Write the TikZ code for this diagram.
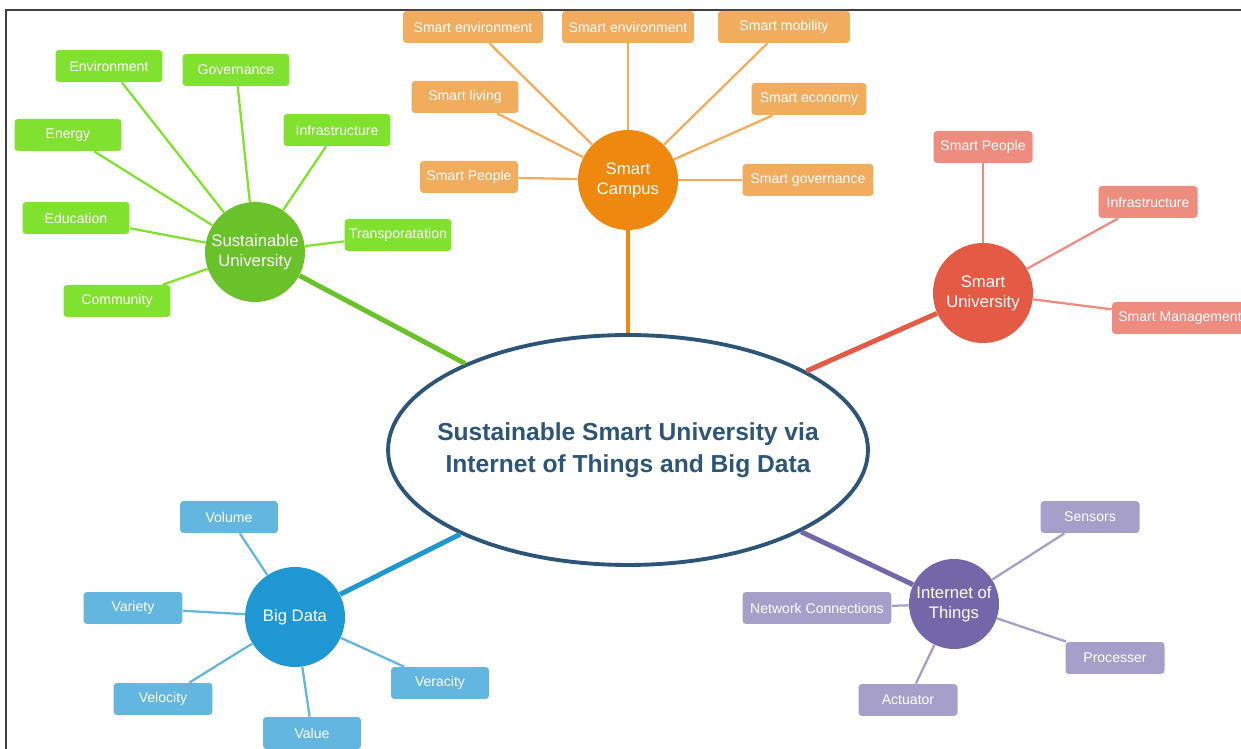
\documentclass[tikz,border=0pt]{standalone}
\usepackage{fontspec}
\setmainfont{Liberation Sans}
\usetikzlibrary{shapes.geometric}
\definecolor{coreblue}{HTML}{2D5577}
\definecolor{grnD}{HTML}{6AC22A}
\definecolor{grnL}{HTML}{80E22E}
\definecolor{orgD}{HTML}{EF880F}
\definecolor{orgL}{HTML}{F2AC5E}
\definecolor{redD}{HTML}{E55A44}
\definecolor{redL}{HTML}{EE8C80}
\definecolor{bluD}{HTML}{1F97D2}
\definecolor{bluL}{HTML}{62B6E0}
\definecolor{purD}{HTML}{7467A9}
\definecolor{purL}{HTML}{A59FC9}

\begin{document}
\begin{tikzpicture}[x=0.02cm,y=-0.02cm,
    leaf/.style={rectangle,rounded corners=2pt,text=white,font=\fontsize{8}{9}\selectfont,
      minimum height=0.64cm,inner sep=1pt},
    hub/.style={circle,text=white,font=\fontsize{9.5}{11.3}\selectfont,align=center,
      minimum size=2cm,inner sep=0pt},
    spoke/.style={line width=1.3pt},
    trunk/.style={line width=2.8pt}]
      \useasboundingbox (0,0) rectangle (1241,749);
      \clip (0,0) rectangle (1241,749);
      \draw[line width=0.8pt,black!75] (6,749) -- (6,10) -- (1241,10);

      \node[ellipse,draw=coreblue,line width=2.2pt,fill=white,minimum width=9.6cm,minimum height=4.6cm,
        inner sep=0pt] (core) at (628,450) {};
      \node[text=coreblue,font=\bfseries\fontsize{14}{18}\selectfont,align=center] (title) at (core.center)
        {Sustainable Smart University via\\Internet of Things and Big Data};

      % sustainable university
      \node[hub,fill=grnD] (su) at (255,252) {Sustainable\\University};
      \node[leaf,fill=grnL,minimum width=2.14cm] (env) at (109,66) {Environment};
      \node[leaf,fill=grnL,minimum width=2.14cm] (gov) at (236,70) {Governance};
      \node[leaf,fill=grnL,minimum width=2.14cm] (ene) at (68,135) {Energy};
      \node[leaf,fill=grnL,minimum width=2.14cm] (inf) at (337,130) {Infrastructure};
      \node[leaf,fill=grnL,minimum width=2.14cm] (edu) at (76,218) {Education};
      \node[leaf,fill=grnL,minimum width=2.14cm] (tra) at (398,235) {Transporatation};
      \node[leaf,fill=grnL,minimum width=2.14cm] (com) at (117,301) {Community};
      \foreach \n in {env,gov,ene,inf,edu,tra,com} \draw[spoke,grnL] (su) -- (\n);
      \draw[trunk,grnD] (su) -- (core);

      % smart campus
      \node[hub,fill=orgD] (sc) at (628,180) {Smart\\Campus};
      \node[leaf,fill=orgL,minimum width=2.8cm] (senv) at (473,27) {Smart environment};
      \node[leaf,fill=orgL,minimum width=2.64cm] (senw) at (628,27) {Smart environment};
      \node[leaf,fill=orgL,minimum width=2.64cm] (smob) at (784,27) {Smart mobility};
      \node[leaf,fill=orgL,minimum width=2.14cm] (sliv) at (465,97) {Smart living};
      \node[leaf,fill=orgL,minimum width=2.3cm] (seco) at (809,99) {Smart economy};
      \node[leaf,fill=orgL,minimum width=1.96cm] (spep) at (469,177) {Smart People};
      \node[leaf,fill=orgL,minimum width=2.62cm] (sgov) at (808,180) {Smart governance};
      \foreach \n in {senv,senw,smob,sliv,seco,spep,sgov} \draw[spoke,orgL] (sc) -- (\n);
      \draw[trunk,orgD] (sc) -- (core);

      % smart university
      \node[hub,fill=redD] (smu) at (983,293) {Smart\\University};
      \node[leaf,fill=redL,minimum width=1.98cm] (upep) at (983,147) {Smart People};
      \node[leaf,fill=redL,minimum width=1.98cm] (uinf) at (1148,202) {Infrastructure};
      \node[leaf,fill=redL,minimum width=2.72cm] (uman) at (1180,318) {Smart Management};
      \foreach \n in {upep,uinf,uman} \draw[spoke,redL] (smu) -- (\n);
      \draw[trunk,redD] (smu) -- (core);

      % big data
      \node[hub,fill=bluD] (bd) at (295,617) {Big Data};
      \node[leaf,fill=bluL,minimum width=1.96cm] (vol) at (229,517) {Volume};
      \node[leaf,fill=bluL,minimum width=1.98cm] (var) at (133,608) {Variety};
      \node[leaf,fill=bluL,minimum width=1.98cm] (vel) at (163,699) {Velocity};
      \node[leaf,fill=bluL,minimum width=1.96cm] (val) at (312,733) {Value};
      \node[leaf,fill=bluL,minimum width=1.96cm] (ver) at (440,683) {Veracity};
      \foreach \n in {vol,var,vel,val,ver} \draw[spoke,bluL] (bd) -- (\n);
      \draw[trunk,bluD] (bd) -- (core);

      % internet of things
      \node[hub,fill=purD,minimum size=1.8cm] (iot) at (954,604) {Internet of\\Things};
      \node[leaf,fill=purL,minimum width=1.98cm] (sen) at (1090,517) {Sensors};
      \node[leaf,fill=purL,minimum width=2.98cm] (net) at (817,608) {Network Connections};
      \node[leaf,fill=purL,minimum width=1.98cm] (pro) at (1115,658) {Processer};
      \node[leaf,fill=purL,minimum width=1.98cm] (act) at (908,700) {Actuator};
      \foreach \n in {sen,net,pro,act} \draw[spoke,purL] (iot) -- (\n);
      \draw[trunk,purD] (iot) -- (core);
    \end{tikzpicture}
\end{document}
